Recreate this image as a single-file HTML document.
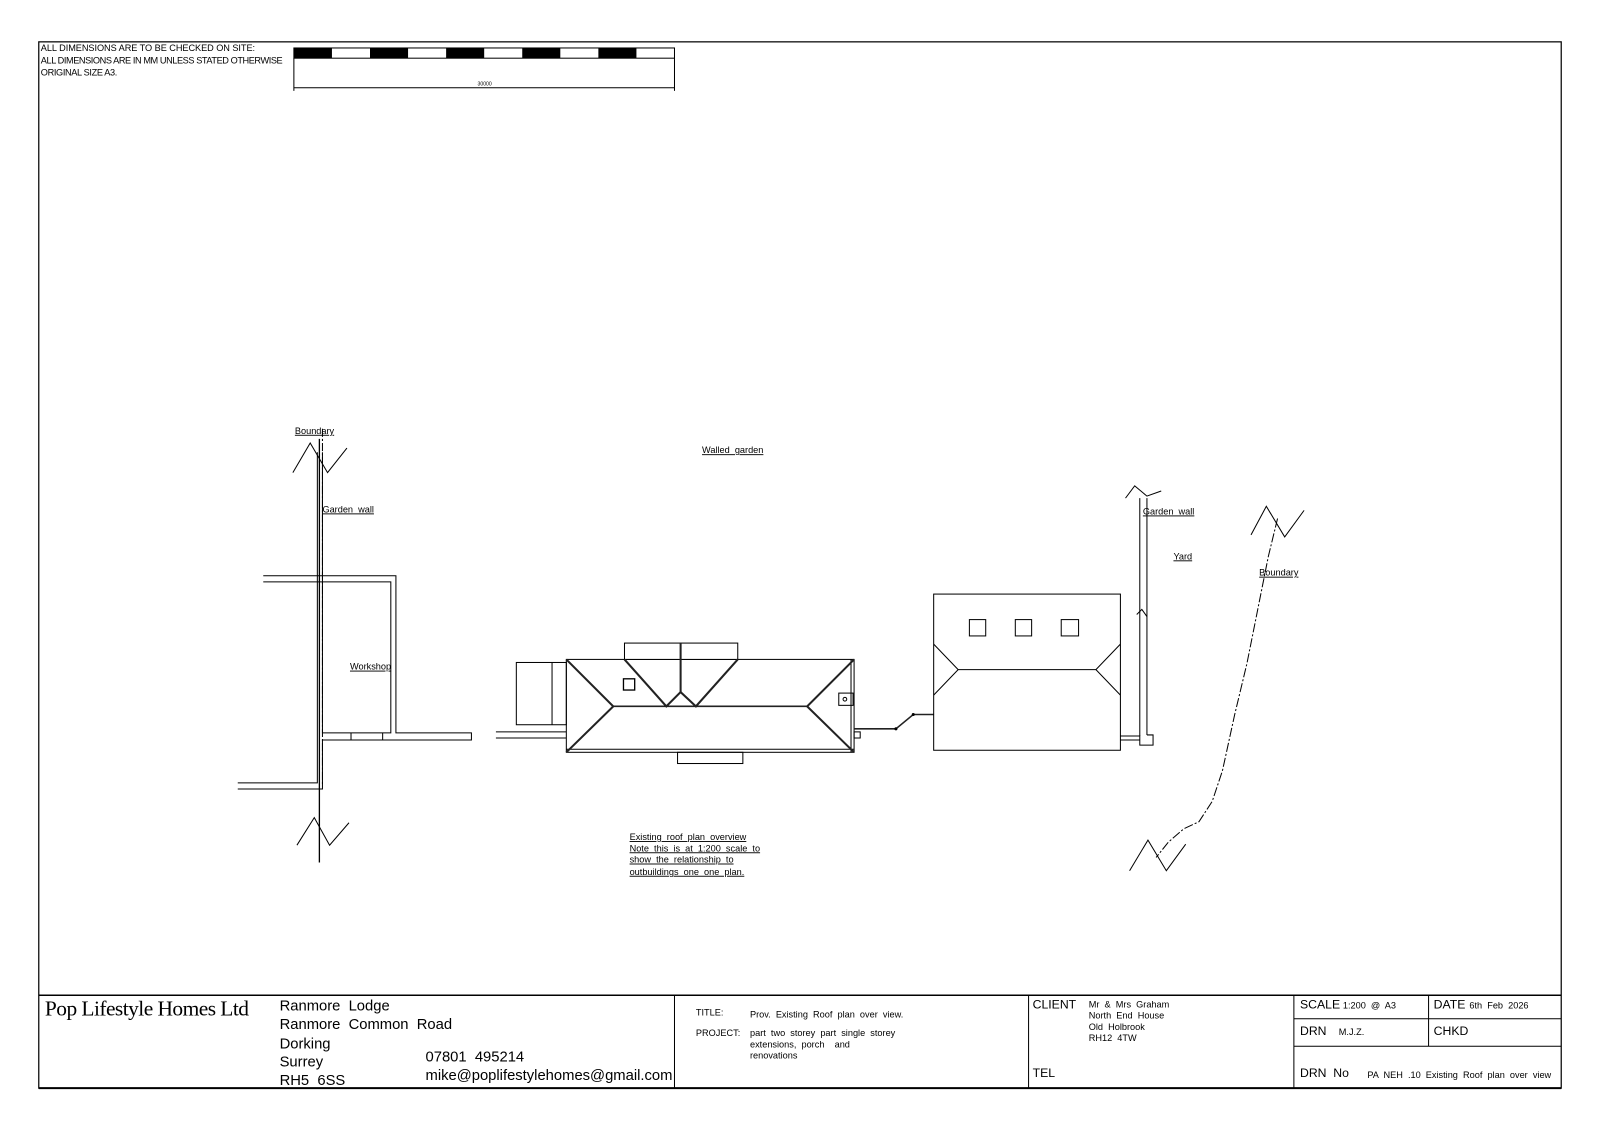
<!DOCTYPE html>
<html><head><meta charset="utf-8"><style>
html,body{margin:0;padding:0;background:#fff;width:1600px;height:1131px;overflow:hidden}
svg{display:block}
text{font-family:"Liberation Sans",sans-serif;fill:#000;white-space:pre}
.s{font-size:9px}
.u{text-decoration:underline}
</style></head><body>
<svg width="1600" height="1131" viewBox="0 0 1568 1108" preserveAspectRatio="none" xml:space="preserve">
<g fill="none" stroke="#000" stroke-width="1">
<rect x="38" y="41" width="1492" height="1025" stroke-width="1.2"/>
<line x1="38" y1="975" x2="1530" y2="975" stroke-width="1.5"/>
<line x1="38" y1="1066" x2="1530" y2="1066" stroke-width="2"/>
<line x1="661" y1="975" x2="661" y2="1066"/>
<line x1="1008" y1="975" x2="1008" y2="1066"/>
<line x1="1268" y1="975" x2="1268" y2="1066"/>
<line x1="1268" y1="998" x2="1530" y2="998"/>
<line x1="1268" y1="1025" x2="1530" y2="1025"/>
<line x1="1400" y1="975" x2="1400" y2="1025"/>
<rect x="288" y="47" width="373" height="10"/>
<line x1="288" y1="57" x2="288" y2="89"/>
<line x1="661" y1="57" x2="661" y2="89"/>
<line x1="288" y1="86" x2="661" y2="86"/>
</g>
<g fill="#000">
<rect x="288" y="47" width="37.3" height="10"/>
<rect x="362.6" y="47" width="37.3" height="10"/>
<rect x="437.2" y="47" width="37.3" height="10"/>
<rect x="511.8" y="47" width="37.3" height="10"/>
<rect x="586.4" y="47" width="37.3" height="10"/>
</g>
<text x="468" y="84" style="font-size:5px">30000</text>
<text class="s" x="40" y="50" textLength="210">ALL DIMENSIONS ARE TO BE CHECKED ON SITE:</text>
<text class="s" x="40" y="62" textLength="237">ALL DIMENSIONS ARE IN MM UNLESS STATED OTHERWISE</text>
<text class="s" x="40" y="74" textLength="75">ORIGINAL SIZE A3.</text>

<g fill="none" stroke="#000" stroke-width="1">
<line x1="313" y1="430" x2="313" y2="845" stroke-width="1.3"/>
<line x1="316" y1="420" x2="316" y2="770" stroke-dasharray="8,2,2,2"/>
<polyline points="287,463 304,434 321,463 340,439"/>
<polyline points="291,828 308,801 323,828 342,806"/>
<polyline points="311,443 311,767 233,767"/>
<polyline points="316,443 316,718 383,718 383,570 258,570"/>
<polyline points="258,564 388,564 388,718 462,718 462,725 316,725 316,773 233,773"/>
<line x1="344" y1="718" x2="344" y2="725"/>
<line x1="375" y1="718" x2="375" y2="725"/>
<rect x="506" y="649" width="49" height="61"/>
<line x1="541" y1="649" x2="541" y2="710"/>
<line x1="486" y1="717" x2="555" y2="717"/>
<line x1="486" y1="723" x2="555" y2="723"/>
<rect x="555" y="646" width="282" height="91"/>
<line x1="555" y1="734" x2="837" y2="734"/>
<line x1="834" y1="646" x2="834" y2="737"/>
<rect x="664" y="737" width="64" height="11"/>
<rect x="612" y="630" width="111" height="16" fill="#fff"/>
<rect x="611" y="665" width="11" height="11" stroke-width="1.3"/>
<rect x="822" y="679" width="14" height="12"/>
<circle cx="828" cy="685" r="1.8"/>
<rect x="837" y="717" width="6" height="6"/>
</g>
<g fill="none" stroke="#222" stroke-width="2">
<polyline points="555,646 601,692 555,737"/>
<polyline points="837,646 791,692 837,737"/>
<line x1="601" y1="692" x2="791" y2="692" stroke-width="1.6"/>
<polyline points="612,646 653,692 667,678 682,692 723,646"/>
<line x1="667" y1="630" x2="667" y2="678"/>
<polyline points="837,714 878,714 895,700 915,700" stroke-width="1.5"/>
</g>
<g fill="#000"><circle cx="878" cy="714" r="1.5"/><circle cx="895" cy="700" r="1.5"/></g>
<g fill="none" stroke="#000" stroke-width="1">
<rect x="915" y="582" width="183" height="153"/>
<rect x="950" y="607" width="16" height="16"/>
<rect x="995" y="607" width="16" height="16"/>
<rect x="1040" y="607" width="17" height="16"/>
<polyline points="915,631 939,656 915,681"/>
<polyline points="1098,631 1074,656 1098,681"/>
<line x1="939" y1="656" x2="1074" y2="656"/>
<line x1="1117" y1="488" x2="1117" y2="721"/>
<line x1="1124" y1="488" x2="1124" y2="720"/>
<polyline points="1098,721 1117,721 1117,730 1130,730 1130,720 1124,720"/>
<line x1="1098" y1="725" x2="1117" y2="725"/>
<polyline points="1103,488 1112,476 1124,486 1138,481"/>
<polyline points="1114,602 1119,597 1124,604"/>
<polyline points="1226,524 1241,496 1259,526 1278,500"/>
<polyline points="1107,853 1125,823 1143,853 1162,827"/>
<path d="M1252,508 L1243,545 1232,600 1222,650 1210,700 1198,755 1188,785 1175,805 1160,812 1145,825 1133,840" stroke-dasharray="9,2,2,2"/>
</g>
<g style="font-size:9px">
<text x="289" y="425" class="u">Boundary</text>
<text x="316" y="502" class="u">Garden  wall</text>
<text x="343" y="656" class="u">Workshop</text>
<text x="688" y="444" class="u">Walled  garden</text>
<text x="1120" y="504" class="u">Garden  wall</text>
<text x="1150" y="548" class="u">Yard</text>
<text x="1234" y="564" class="u">Boundary</text>
<text x="617" y="823" class="u">Existing  roof  plan  overview</text>
<text x="617" y="834" class="u">Note  this  is  at  1:200  scale  to</text>
<text x="617" y="845" class="u">show  the  relationship  to</text>
<text x="617" y="857" class="u">outbuildings  one  one  plan.</text>
</g>
<text x="44" y="995" style="font-family:'Liberation Serif',serif;font-size:21px" textLength="200">Pop Lifestyle Homes Ltd</text>
<g style="font-size:14.5px">
<text x="274" y="990">Ranmore  Lodge</text>
<text x="274" y="1008">Ranmore  Common  Road</text>
<text x="274" y="1027">Dorking</text>
<text x="274" y="1045">Surrey</text>
<text x="274" y="1063">RH5  6SS</text>
<text x="417" y="1040">07801  495214</text>
<text x="417" y="1058" textLength="242">mike@poplifestylehomes@gmail.com</text>
</g>
<g style="font-size:9px">
<text x="682" y="995">TITLE:</text>
<text x="735" y="997">Prov.  Existing  Roof  plan  over  view.</text>
<text x="682" y="1015">PROJECT:</text>
<text x="735" y="1015">part  two  storey  part  single  storey</text>
<text x="735" y="1026">extensions,  porch    and</text>
<text x="735" y="1037">renovations</text>
<text x="1067" y="987">Mr  &amp;  Mrs  Graham</text>
<text x="1067" y="998">North  End  House</text>
<text x="1067" y="1009">Old  Holbrook</text>
<text x="1067" y="1020">RH12  4TW</text>
<text x="1316" y="988">1:200  @  A3</text>
<text x="1440" y="988">6th  Feb  2026</text>
<text x="1312" y="1014">M.J.Z.</text>
<text x="1340" y="1056">PA  NEH  .10  Existing  Roof  plan  over  view</text>
</g>
<g style="font-size:12px">
<text x="1012" y="988">CLIENT</text>
<text x="1012" y="1055">TEL</text>
<text x="1274" y="988">SCALE</text>
<text x="1405" y="988">DATE</text>
<text x="1274" y="1014">DRN</text>
<text x="1405" y="1014">CHKD</text>
<text x="1274" y="1055">DRN  No</text>
</g>
</svg>
</body></html>
